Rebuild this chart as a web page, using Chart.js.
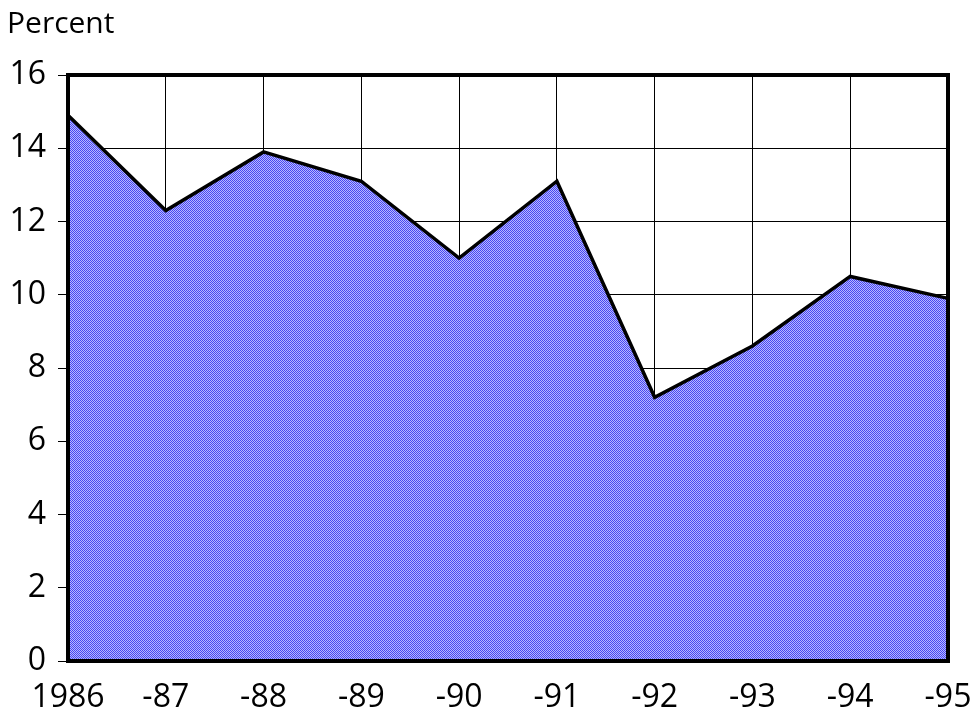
<!DOCTYPE html>
<html><head><meta charset="utf-8">
<script src="https://cdn.jsdelivr.net/npm/chart.js@4/dist/chart.umd.min.js"></script>
<style>html,body{margin:0;padding:0;background:#fff}#wrap{width:974px;height:717px}</style>
</head><body><div id="wrap"><canvas id="c" width="974" height="717"></canvas></div>
<script>
const categories = ['1986','-87','-88','-89','-90','-91','-92','-93','-94','-95'];
const values = [14.9, 12.3, 13.9, 13.1, 11.0, 13.1, 7.2, 8.6, 10.5, 9.9];
const yTitle = 'Percent';

function makePattern(){
  const p = document.createElement('canvas'); p.width = 2; p.height = 2;
  const g = p.getContext('2d');
  g.fillStyle = '#4848f2'; g.fillRect(0,0,2,2);
  g.fillStyle = '#b8b8ff'; g.fillRect(1,0,1,1); g.fillRect(0,1,1,1);
  return g.createPattern(p,'repeat');
}
const FONT = "'Open Sans', sans-serif";
const frame = {
  id:'frame',
  afterDatasetsDraw(chart){
    const a = chart.chartArea, ctx = chart.ctx;
    ctx.save(); ctx.strokeStyle='#000'; ctx.lineWidth=4;
    ctx.strokeRect(a.left, a.top, a.right-a.left, a.bottom-a.top);
    ctx.restore();
  },
  afterDraw(chart){
    const ctx = chart.ctx;
    ctx.save(); ctx.fillStyle='#000'; ctx.font = "30px " + FONT;
    ctx.textAlign='left'; ctx.textBaseline='alphabetic';
    ctx.fillText(yTitle, 7, 33);
    ctx.restore();
  }
};
new Chart(document.getElementById('c'), {
  type:'line',
  data:{labels:categories, datasets:[{data:values, borderColor:'#000', borderWidth:3.5, backgroundColor:makePattern(), fill:'origin', pointRadius:0, tension:0}]},
  options:{
    responsive:false, animation:false,
    layout:{padding:{left:0,right:26,top:75,bottom:2}},
    plugins:{legend:{display:false}, tooltip:{enabled:false}, title:{display:false}},
    scales:{
      x:{offset:false, grid:{color:'#000', lineWidth:1, drawTicks:false}, border:{display:false},
         ticks:{color:'#000', font:{family:FONT,size:32}, padding:18, maxRotation:0, autoSkip:false},
         afterFit(s){ s.paddingLeft = 0; s.paddingRight = 0; s.height = 54; }},
      y:{min:0,max:16, grid:{color:'#000', lineWidth:1, tickLength:10}, border:{display:false},
         ticks:{stepSize:2, color:'#000', font:{family:FONT,size:32}, padding:12},
         afterFit(s){ s.width = 68; s.paddingTop = 0; s.paddingBottom = 0; }}
    }
  },
  plugins:[frame]
});
</script></body></html>
